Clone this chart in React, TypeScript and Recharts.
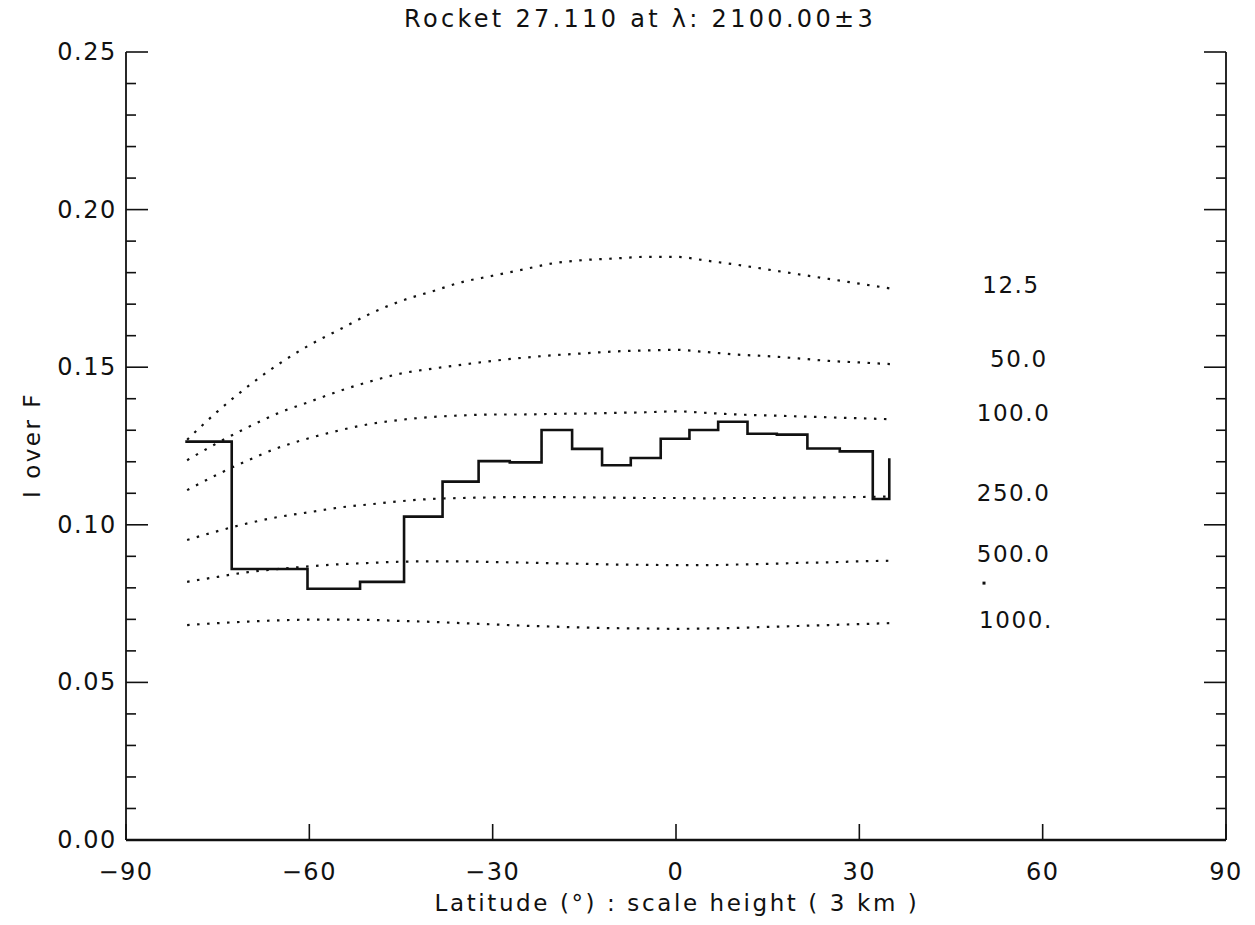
import { ComposedChart, Line, Scatter, XAxis, YAxis } from "recharts";

// latitude grid of the model curves
const LAT = [-80, -75, -70, -65, -60, -55, -50, -45, -40, -35, -30, -25, -20, -15, -10, -5, 0, 5, 10, 15, 20, 25, 30, 35];

const M_12_5 = [0.127, 0.136, 0.144, 0.151, 0.157, 0.162, 0.167, 0.171, 0.174, 0.177, 0.179, 0.181, 0.183, 0.184, 0.1845, 0.185, 0.185, 0.1838, 0.1825, 0.181, 0.1795, 0.178, 0.1765, 0.175];
const M_50 = [0.1205, 0.126, 0.131, 0.1355, 0.139, 0.1425, 0.1455, 0.148, 0.1495, 0.1508, 0.152, 0.153, 0.1538, 0.1544, 0.155, 0.1553, 0.1555, 0.1548, 0.154, 0.1535, 0.1528, 0.152, 0.1515, 0.151];
const M_100 = [0.111, 0.116, 0.1205, 0.1245, 0.1275, 0.13, 0.132, 0.1333, 0.1342, 0.1347, 0.135, 0.135, 0.1352, 0.1353, 0.1355, 0.1357, 0.136, 0.1355, 0.135, 0.1347, 0.1344, 0.1341, 0.1338, 0.1335];
const M_250 = [0.0952, 0.098, 0.1005, 0.1025, 0.104, 0.1055, 0.1065, 0.1075, 0.1082, 0.1085, 0.1087, 0.1088, 0.1088, 0.1087, 0.1086, 0.1085, 0.1085, 0.1084, 0.1085, 0.1085, 0.1086, 0.1087, 0.1088, 0.109];
const M_500 = [0.0819, 0.0835, 0.085, 0.086, 0.0868, 0.0875, 0.0879, 0.0883, 0.0884, 0.0884, 0.0882, 0.088, 0.0878, 0.0876, 0.0874, 0.0873, 0.0872, 0.0872, 0.0874, 0.0876, 0.0879, 0.0881, 0.0884, 0.0886];
const M_1000 = [0.0682, 0.0688, 0.0693, 0.0697, 0.0699, 0.0699, 0.0698, 0.0695, 0.0692, 0.0688, 0.0684, 0.068, 0.0677, 0.0674, 0.0672, 0.0671, 0.067, 0.0671, 0.0673, 0.0676, 0.0679, 0.0682, 0.0685, 0.0688];

// measured I/F, step edges
const STEP_LAT = [-80.3, -72.7, -60.3, -51.7, -44.5, -38.2, -32.3, -27.2, -22.0, -17.0, -12.1, -7.4, -2.5, 2.2, 6.9, 11.7, 16.5, 21.5, 26.8, 32.2, 34.9];
const STEP_VAL = [0.1264, 0.086, 0.0797, 0.0819, 0.1026, 0.1137, 0.1202, 0.1198, 0.1301, 0.1241, 0.1189, 0.1212, 0.1273, 0.1301, 0.1327, 0.1289, 0.1286, 0.1242, 0.1233, 0.1082, 0.1211];

// curve labels
const LABEL_TEXT = ["12.5", "50.0", "100.0", "250.0", "500.0", "1000."];
const LABEL_LAT = [50.1, 51.4, 49.2, 49.2, 49.2, 49.6];
const LABEL_VAL = [0.1761, 0.1526, 0.1355, 0.1101, 0.0907, 0.0698];

const X_TICKS = [-90, -60, -30, 0, 30, 60, 90];
const Y_TICKS = [0, 0.01, 0.02, 0.03, 0.04, 0.05, 0.06, 0.07, 0.08, 0.09, 0.1, 0.11, 0.12, 0.13, 0.14, 0.15, 0.16, 0.17, 0.18, 0.19, 0.2, 0.21, 0.22, 0.23, 0.24, 0.25];

const FONT = "'DejaVu Sans', sans-serif";
const INK = "#111";

const curve = (vals: number[]) => LAT.map((lat, i) => ({ lat, val: vals[i] }));
const models = [M_12_5, M_50, M_100, M_250, M_500, M_1000].map(curve);
const steps = STEP_LAT.map((lat, i) => ({ lat, val: STEP_VAL[i] }));
const labels = LABEL_TEXT.map((t, i) => ({ lat: LABEL_LAT[i], val: LABEL_VAL[i], t }));
const speck = [{ lat: 50.4, val: 0.0815 }];

const isMajor = (v: number) => Math.round(v * 100) % 5 === 0;

function LeftTick({ x, y, payload }: any) {
  const v = payload.value;
  const major = isMajor(v);
  return (
    <g>
      <line x1={x} x2={x + (major ? 22 : 10)} y1={y} y2={y} stroke={INK} strokeWidth={1.6} />
      {major && (
        <text x={x - 9} y={y + 8} textAnchor="end" fontFamily={FONT} fontSize={24} letterSpacing={1.6} fill={INK}>
          {v.toFixed(2)}
        </text>
      )}
    </g>
  );
}

function RightTick({ x, y, payload }: any) {
  const major = isMajor(payload.value);
  return <line x1={x} x2={x - (major ? 22 : 10)} y1={y} y2={y} stroke={INK} strokeWidth={1.6} />;
}

function BottomTick({ x, y, payload }: any) {
  const v = payload.value;
  return (
    <g>
      <line x1={x} x2={x} y1={y} y2={y - 16} stroke={INK} strokeWidth={1.6} />
      <text x={x} y={y + 40} textAnchor="middle" fontFamily={FONT} fontSize={24} letterSpacing={1.5} fill={INK}>
        {v < 0 ? `\u2212${Math.abs(v)}` : `${v}`}
      </text>
    </g>
  );
}

function TopTick({ x, y }: any) {
  return <line x1={x} x2={x} y1={y} y2={y + 16} stroke={INK} strokeWidth={1.6} />;
}

function CurveLabel({ cx, cy, payload }: any) {
  return (
    <text x={cx} y={cy + 8} fontFamily={FONT} fontSize={23} letterSpacing={1.6} fill={INK}>
      {payload.t}
    </text>
  );
}

function Speck({ cx, cy }: any) {
  return <rect x={cx - 1.5} y={cy - 1.5} width={3} height={3} fill={INK} />;
}

export default function App() {
  return (
    <div style={{ position: "absolute", left: 0, top: 0, background: "#fff" }}>
      <ComposedChart width={1255} height={925} margin={{ top: 52, right: 0, bottom: 0, left: 0 }}>
        <XAxis
          xAxisId="b"
          dataKey="lat"
          type="number"
          domain={[-90, 90]}
          ticks={X_TICKS}
          interval={0}
          height={85}
          tickSize={0}
          tickMargin={0}
          tick={<BottomTick />}
          axisLine={{ stroke: INK, strokeWidth: 2.4 }}
          allowDataOverflow
        />
        <XAxis
          xAxisId="t"
          orientation="top"
          dataKey="lat"
          type="number"
          domain={[-90, 90]}
          ticks={X_TICKS}
          interval={0}
          height={0}
          tickSize={0}
          tickMargin={0}
          tick={<TopTick />}
          axisLine={{ stroke: INK, strokeWidth: 2 }}
          allowDataOverflow
        />
        <YAxis
          yAxisId="l"
          dataKey="val"
          type="number"
          domain={[0, 0.25]}
          ticks={Y_TICKS}
          interval={0}
          width={126}
          tickSize={0}
          tickMargin={0}
          tick={<LeftTick />}
          axisLine={{ stroke: INK, strokeWidth: 1.8 }}
          allowDataOverflow
        />
        <YAxis
          yAxisId="r"
          orientation="right"
          dataKey="val"
          type="number"
          domain={[0, 0.25]}
          ticks={Y_TICKS}
          interval={0}
          width={29}
          tickSize={0}
          tickMargin={0}
          tick={<RightTick />}
          axisLine={{ stroke: INK, strokeWidth: 1.8 }}
          allowDataOverflow
        />
        {models.map((d, i) => (
          <Line
            key={i}
            xAxisId="b"
            yAxisId="l"
            data={d}
            dataKey="val"
            type="monotone"
            stroke={INK}
            strokeWidth={2.2}
            strokeDasharray="2.5 7.5"
            dot={false}
            activeDot={false}
            isAnimationActive={false}
          />
        ))}
        <Line
          xAxisId="b"
          yAxisId="l"
          data={steps}
          dataKey="val"
          type="stepAfter"
          stroke={INK}
          strokeWidth={2.6}
          dot={false}
          activeDot={false}
          isAnimationActive={false}
        />
        <Scatter xAxisId="b" yAxisId="l" data={labels} dataKey="val" shape={<CurveLabel />} isAnimationActive={false} />
        <Scatter xAxisId="b" yAxisId="l" data={speck} dataKey="val" shape={<Speck />} isAnimationActive={false} legendType="none" />
        <text x={640} y={27} textAnchor="middle" fontFamily={FONT} fontSize={24} letterSpacing={3.3} fill={INK}>
          Rocket 27.110 at λ: 2100.00±3
        </text>
        <text x={677} y={911} textAnchor="middle" fontFamily={FONT} fontSize={23} letterSpacing={2.6} fill={INK}>
          Latitude (°) : scale height ( 3 km )
        </text>
        <text
          x={40}
          y={445}
          transform="rotate(-90 40 445)"
          textAnchor="middle"
          fontFamily={FONT}
          fontSize={23}
          letterSpacing={2.5}
          fill={INK}
        >
          I over F
        </text>
      </ComposedChart>
    </div>
  );
}
